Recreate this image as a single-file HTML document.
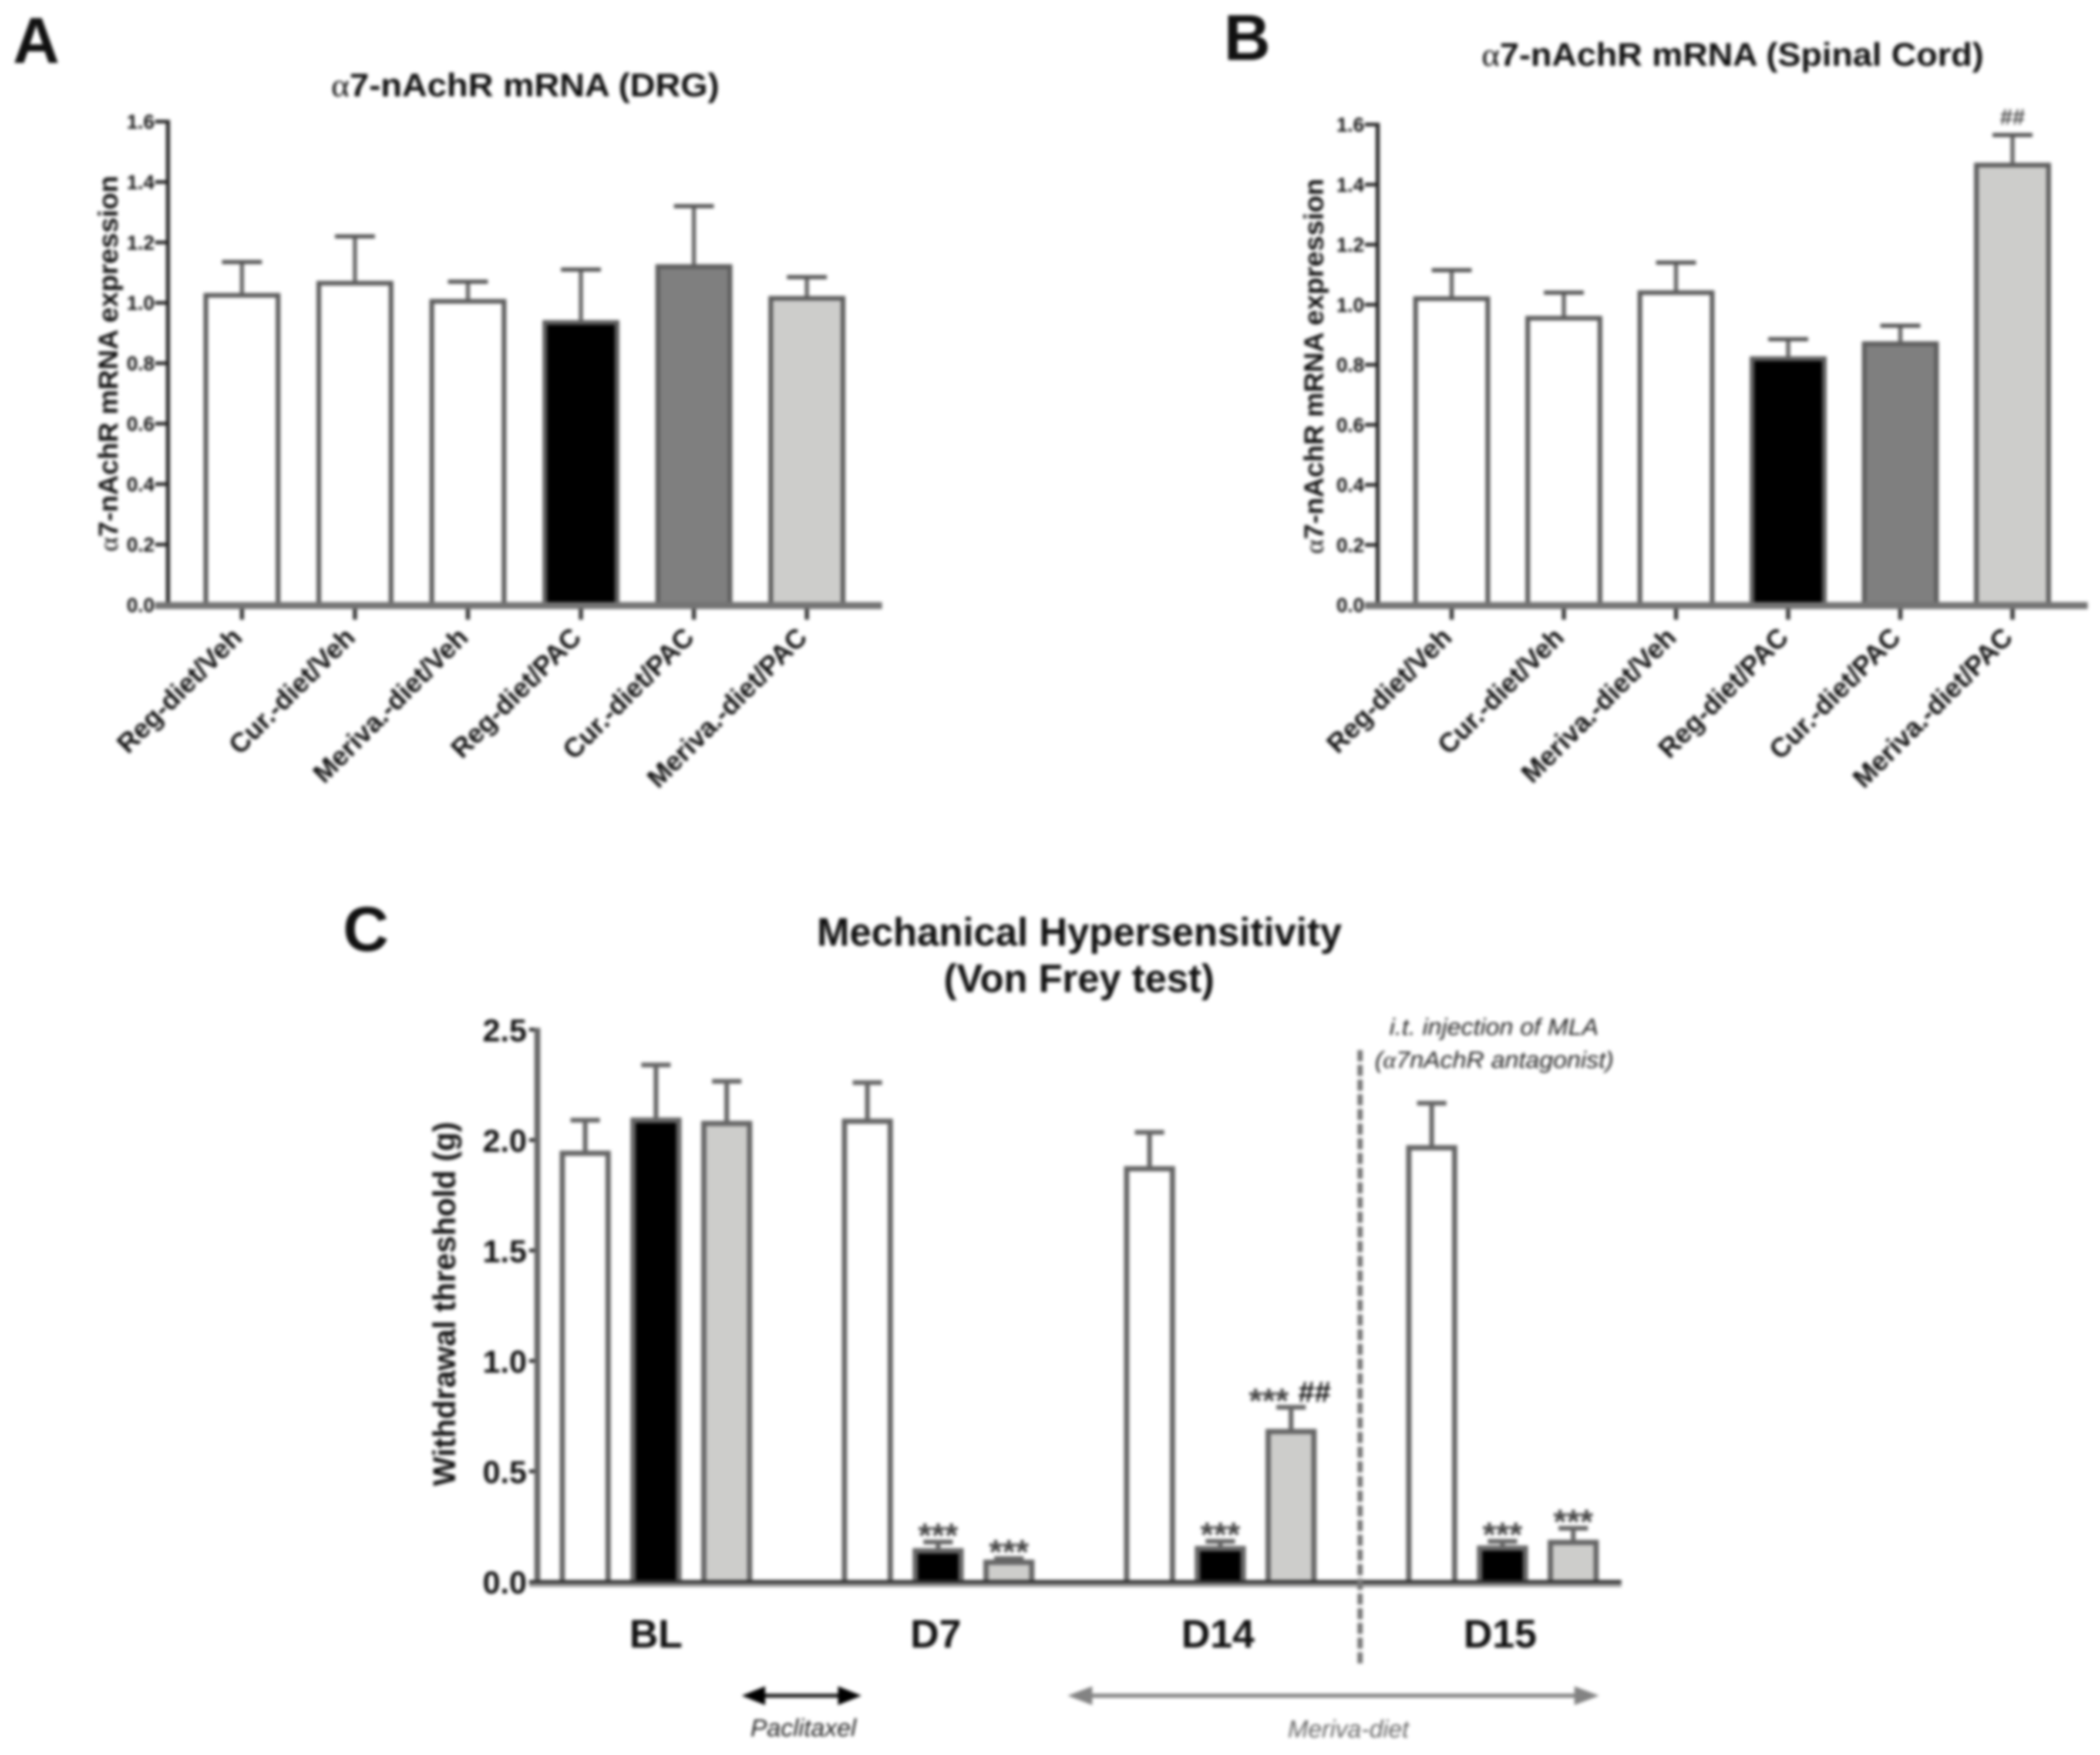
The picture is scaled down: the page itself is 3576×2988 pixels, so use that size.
<!DOCTYPE html>
<html lang="en">
<head>
<meta charset="utf-8">
<title>α7-nAchR mRNA and Mechanical Hypersensitivity</title>
<style>
html,body{margin:0;padding:0;background:#fff;width:3576px;height:2988px;overflow:hidden}
svg{display:block;position:absolute;left:0;top:0;filter:blur(2.8px)}
text{font-family:"Liberation Sans",sans-serif;font-weight:bold;fill:#111}
.sym{font-family:"Liberation Serif",serif;font-weight:normal}
.note{font-weight:normal;font-style:italic;fill:#222}
</style>
</head>
<body>
<svg id="fig" xmlns="http://www.w3.org/2000/svg" width="3576" height="2988" viewBox="0 0 3576 2988">
  <rect width="3576" height="2988" fill="#fff"/>
  <text x="22" y="107" font-size="110">A</text>
  <text x="2084" y="102" font-size="110">B</text>
  <text x="584" y="1619" font-size="108">C</text>

  <text x="564" y="164" font-size="56" textLength="661" lengthAdjust="spacingAndGlyphs"><tspan class="sym">α</tspan>7-nAchR mRNA (DRG)</text>
  <text x="2523" y="112" font-size="56" textLength="855" lengthAdjust="spacingAndGlyphs"><tspan class="sym">α</tspan>7-nAchR mRNA (Spinal Cord)</text>
  <text x="1391" y="1610" font-size="68" textLength="894" lengthAdjust="spacingAndGlyphs">Mechanical Hypersensitivity</text>
  <text x="1607" y="1689" font-size="68" textLength="461" lengthAdjust="spacingAndGlyphs">(Von Frey test)</text>

  <text transform="translate(200 939) rotate(-90)" font-size="46" textLength="640" lengthAdjust="spacingAndGlyphs"><tspan class="sym">α</tspan>7-nAchR mRNA expression</text>
  <text transform="translate(2253 943) rotate(-90)" font-size="46" textLength="639" lengthAdjust="spacingAndGlyphs"><tspan class="sym">α</tspan>7-nAchR mRNA expression</text>
  <text transform="translate(775 2530) rotate(-90)" font-size="54" textLength="620" lengthAdjust="spacingAndGlyphs">Withdrawal threshold (g)</text>

  <g id="panel-a"></g>
  <g id="panel-b"></g>
  <g id="panel-c"></g>

  <line x1="2316" y1="1788" x2="2316" y2="2838" stroke="#777" stroke-width="9" stroke-dasharray="19 6"/>
  <text class="note" x="2366" y="1762" font-size="40" textLength="356" lengthAdjust="spacingAndGlyphs">i.t. injection of MLA</text>
  <text class="note" x="2341" y="1818" font-size="40" textLength="407" lengthAdjust="spacingAndGlyphs">(<tspan class="sym" font-style="italic">α</tspan>7nAchR antagonist)</text>

  <g>
    <line x1="1290" y1="2887" x2="1440" y2="2887" stroke="#222" stroke-width="7"/>
    <polygon points="1263,2887 1303,2871 1303,2903" fill="#000"/>
    <polygon points="1467,2887 1427,2871 1427,2903" fill="#000"/>
  </g>
  <text class="note" x="1278" y="2956" font-size="42" textLength="180" lengthAdjust="spacingAndGlyphs">Paclitaxel</text>
  <g>
    <line x1="1845" y1="2887" x2="2695" y2="2887" stroke="#838383" stroke-width="7"/>
    <polygon points="1818,2887 1860,2871 1860,2903" fill="#838383"/>
    <polygon points="2723,2887 2681,2871 2681,2903" fill="#838383"/>
  </g>
  <text class="note" x="2193" y="2958" font-size="42" textLength="206" lengthAdjust="spacingAndGlyphs" style="fill:#666">Meriva-diet</text>
</svg>
<script>
// Chart data
const mrnaCategories = ['Reg-diet/Veh', 'Cur.-diet/Veh', 'Meriva.-diet/Veh', 'Reg-diet/PAC', 'Cur.-diet/PAC', 'Meriva.-diet/PAC'];
const mrnaTickLabels = ['0.0', '0.2', '0.4', '0.6', '0.8', '1.0', '1.2', '1.4', '1.6'];
const drgMeans = [1.025, 1.065, 1.005, 0.935, 1.12, 1.015];
const drgErrors = [0.11, 0.155, 0.065, 0.175, 0.2, 0.07];
const spinalMeans = [1.02, 0.955, 1.04, 0.82, 0.87, 1.465];
const spinalErrors = [0.095, 0.085, 0.1, 0.065, 0.06, 0.1];
const spinalMarks = ['', '', '', '', '', '##'];
const vfGroups = ['BL', 'D7', 'D14', 'D15'];
const vfTickLabels = ['0.0', '0.5', '1.0', '1.5', '2.0', '2.5'];
const vfMeans = [1.94, 2.09, 2.075, 2.085, 0.14, 0.088, 1.87, 0.15, 0.68, 1.965, 0.152, 0.178];
const vfErrors = [0.15, 0.25, 0.191, 0.175, 0.04, 0.017, 0.165, 0.033, 0.11, 0.202, 0.031, 0.064];
const vfStars = ['', '', '', '', '***', '***', '', '***', '***', '', '***', '***'];
const vfHashes = ['', '', '', '', '', '', '', '', '##', '', '', ''];

const NS = 'http://www.w3.org/2000/svg';
function make(parent, tag, attrs, content) {
  const el = document.createElementNS(NS, tag);
  for (const k in attrs) el.setAttribute(k, attrs[k]);
  if (content !== undefined) el.textContent = content;
  parent.appendChild(el);
  return el;
}
const mrnaFills = ['#fff', '#fff', '#fff', '#000', '#7f7f7f', '#cdcdcb'];
const vfFills = ['#fff', '#000', '#cdcdcb'];

function drawMrna(host, means, errors, marks, g) {
  const yOf = v => g.y0 - (v / 1.6) * (g.y0 - g.yTop);
  const xOf = i => g.x0 + g.step * i;
  mrnaTickLabels.forEach(t => {
    const y = yOf(parseFloat(t));
    const tick = make(host, 'line', {x1: g.ax - 22, x2: g.ax, y1: y, y2: y, stroke: '#222', 'stroke-width': 6});
    
    
    const lab = make(host, 'text', {x: g.ax - 23, y: y + 12, 'text-anchor': 'end', 'font-size': 34}, t);
    
    
  });
  means.forEach((m, i) => {
    const cx = xOf(i), top = yOf(m), etop = yOf(m + errors[i]);
    const stem = make(host, 'line', {x1: cx, x2: cx, y1: top, y2: etop, stroke: '#666', 'stroke-width': 7});
    
    
    const cap = make(host, 'line', {x1: cx - 34, x2: cx + 34, y1: etop, y2: etop, stroke: '#555', 'stroke-width': 7});
    
    
    const bar = make(host, 'rect', {x: cx - 61.5, y: top, width: 123, height: g.y0 - top, fill: mrnaFills[i], stroke: '#5e5e5e', 'stroke-width': 8});
    
    
    const xt = make(host, 'line', {x1: cx, x2: cx, y1: g.y0, y2: g.y0 + 25, stroke: '#333', 'stroke-width': 7});
    
    
    const ax = cx + 3, ay = g.y0 + 58;
    const cat = make(host, 'text', {x: ax, y: ay, 'text-anchor': 'end', 'font-size': 46, transform: 'rotate(-45 ' + ax + ' ' + ay + ')'}, mrnaCategories[i]);
    
    
    if (marks && marks[i]) {
      const mk = make(host, 'text', {x: cx, y: etop - 18, 'text-anchor': 'middle', 'font-size': 38, style: 'fill:#444'}, marks[i]);
      
      
    }
  });
  const yAxis = make(host, 'line', {x1: g.ax, x2: g.ax, y1: g.yTop - 3, y2: g.y0, stroke: '#2a2a2a', 'stroke-width': 7});
  
  
  const xAxis = make(host, 'line', {x1: g.ax - 22, x2: g.axEnd, y1: g.y0 + 1, y2: g.y0 + 1, stroke: '#747474', 'stroke-width': 12});
  
  
}

function drawVonFrey(host) {
  const ax = 915, y0 = 2693, yTop = 1753, axEnd = 2761;
  const yOf = v => y0 - (v / 2.5) * (y0 - yTop);
  const xOf = i => 996.5 + 480.5 * Math.floor(i / 3) + 120.5 * (i % 3);
  vfTickLabels.forEach(t => {
    const y = yOf(parseFloat(t));
    const tick = make(host, 'line', {x1: ax - 14, x2: ax, y1: y, y2: y, stroke: '#222', 'stroke-width': 6});
    
    
    const lab = make(host, 'text', {x: 897, y: y + 20, 'text-anchor': 'end', 'font-size': 54}, t);
    
    
  });
  vfMeans.forEach((m, i) => {
    const cx = xOf(i), top = yOf(m), etop = yOf(m + vfErrors[i]);
    const stem = make(host, 'line', {x1: cx, x2: cx, y1: top, y2: etop, stroke: '#666', 'stroke-width': 8});
    
    
    const cap = make(host, 'line', {x1: cx - 25, x2: cx + 25, y1: etop, y2: etop, stroke: '#666', 'stroke-width': 8});
    
    
    const bar = make(host, 'rect', {x: cx - 39, y: top, width: 78, height: y0 + 2 - top, fill: vfFills[i % 3], stroke: '#666', 'stroke-width': 9});
    
    
    const shifted = vfHashes[i] !== '';
    if (vfStars[i]) {
      const st = make(host, 'text', {x: shifted ? cx - 38 : cx, y: etop + 9, 'text-anchor': 'middle', 'font-size': 58, style: 'fill:#444'}, vfStars[i]);
      
      
    }
    if (shifted) {
      const h = make(host, 'text', {x: cx + 40, y: etop - 9, 'text-anchor': 'middle', 'font-size': 50}, vfHashes[i]);
      
      
    }
  });
  vfGroups.forEach((name, g) => {
    const lab = make(host, 'text', {x: xOf(g * 3 + 1) - (g ? 4 : 0), y: 2805, 'text-anchor': 'middle', 'font-size': 68}, name);
    
    
  });
  const yAxis = make(host, 'line', {x1: ax, x2: ax, y1: yTop - 3, y2: y0, stroke: '#666', 'stroke-width': 10});
  
  
  const xAxisShadow = make(host, 'line', {x1: ax - 14, x2: axEnd, y1: y0 + 6, y2: y0 + 6, stroke: '#999', 'stroke-width': 6});
  
  
  const xAxis = make(host, 'line', {x1: ax - 14, x2: axEnd, y1: y0, y2: y0, stroke: '#333', 'stroke-width': 6});
  
  
}

drawMrna(document.getElementById('panel-a'), drgMeans, drgErrors, null,
  {ax: 286, axEnd: 1502, x0: 412, step: 192.4, y0: 1030, yTop: 207});
drawMrna(document.getElementById('panel-b'), spinalMeans, spinalErrors, spinalMarks,
  {ax: 2346, axEnd: 3555, x0: 2472, step: 191, y0: 1030, yTop: 212});
drawVonFrey(document.getElementById('panel-c'));
</script>
</body>
</html>
